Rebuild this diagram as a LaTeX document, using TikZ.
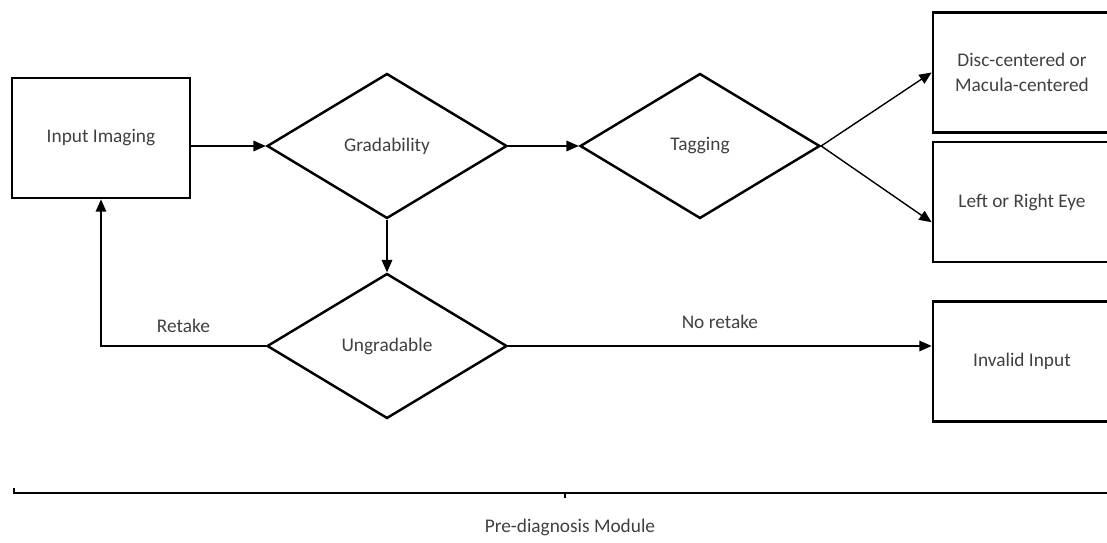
\documentclass[tikz,border=0pt]{standalone}
\usepackage{fontspec}
\setmainfont{Carlito}
\usetikzlibrary{arrows.meta,
  calc,
  positioning,
  shapes.geometric
}
\definecolor{txtgray}{rgb}{0.25,0.25,0.25}

\begin{document}
\begin{tikzpicture}[x=0.02cm, y=-0.02cm,
  font=\fontsize{11}{14}\selectfont,
  box/.style={draw, line width=1.6pt, minimum width=3.56cm, minimum height=2.4cm,
    inner sep=0, align=center, text=txtgray},
  decision/.style={draw, diamond, line width=1.4pt, minimum width=4.8cm,
    minimum height=2.9cm, inner sep=0, text=txtgray},
  link/.style={->, >={Triangle[length=7pt,width=6pt]}, line width=0.8pt},
  lbl/.style={text=txtgray}]
  \useasboundingbox (0, 0) rectangle (1107, 543);

  % steps of the module
  \node[box] (InputImg) at (101, 138) {Input Imaging};
  \node[decision] (Grad) at (387, 146) {Gradability};
  \node[decision] (Tag) at (700, 146) {Tagging};
  \node[decision] (Ungrad) at (387, 346) {Ungradable};

  % outcomes, cut by the right margin
  \node[box] (Disc) at (1022, 72.5) {Disc-centered or\\Macula-centered};
  \node[box] (Eye) at (1022, 202) {Left or Right Eye};
  \node[box] (Invalid) at (1022, 361.5) {Invalid Input};

  \draw[link] (InputImg.east |- Grad.west) -- (Grad.west);
  \draw[link] (Grad.east) -- (Tag.west);
  \draw[link] (Grad.south) -- (Ungrad.north);
  \draw[link] (Tag.east) -- (Disc.west);
  \draw[link] (Tag.east) -- ($(Eye.west)!0.33!(Eye.south west)$);
  \draw[link] (Ungrad.west) -- node[lbl, above=4pt] {Retake}
  (InputImg.south |- Ungrad.west) -- (InputImg.south);
  \draw[link] (Ungrad.east) -- node[lbl, above=6pt] {No retake}
  (Ungrad.east -| Invalid.west);

  % bracket of the module
  \draw[line width=0.8pt] (14, 488) -- (14, 493) -- (1110, 493);
  \draw[line width=0.6pt] (565, 493) -- (565, 498);
  \node[lbl] (Module) at (570, 527) {Pre-diagnosis Module};
\end{tikzpicture}
\end{document}
